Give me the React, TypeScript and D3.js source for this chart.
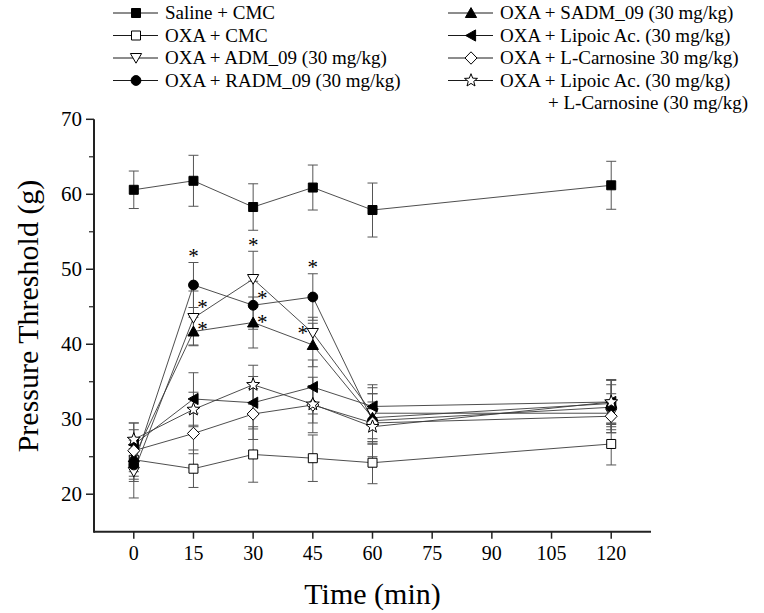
import React from 'react';
import * as d3 from 'd3';

// ---------- data ----------
const times = [0, 15, 30, 45, 60, 120];
const xTicks = [0, 15, 30, 45, 60, 75, 90, 105, 120];
const yTicksMajor = [20, 30, 40, 50, 60, 70];
const yTicksMinor = [25, 35, 45, 55, 65];

const salineCmc = [60.6, 61.8, 58.3, 60.9, 57.9, 61.2];
const salineCmcErr = [2.5, 3.4, 3.1, 3.0, 3.6, 3.2];
const oxaCmc = [24.6, 23.4, 25.3, 24.8, 24.2, 26.7];
const oxaCmcErr = [2.6, 2.5, 3.7, 3.1, 2.8, 2.8];
const oxaAdm = [23.0, 43.5, 48.7, 41.5, 30.8, 30.8];
const oxaAdmErr = [3.5, 3.6, 3.7, 2.1, 3.4, 2.6];
const oxaRadm = [23.9, 47.9, 45.2, 46.3, 29.8, 31.6];
const oxaRadmErr = [2.2, 3.0, 3.2, 3.1, 4.8, 3.0];
const oxaSadm = [24.9, 41.7, 42.9, 39.9, 30.2, 32.1];
const oxaSadmErr = [2.5, 1.9, 3.4, 2.9, 3.2, 3.1];
const oxaLipoic = [26.6, 32.7, 32.2, 34.3, 31.7, 32.3];
const oxaLipoicErr = [2.9, 3.5, 3.5, 3.6, 1.7, 3.0];
const oxaCarn = [25.8, 28.1, 30.7, 31.9, 29.5, 30.4];
const oxaCarnErr = [2.8, 2.7, 3.4, 3.7, 2.8, 2.2];
const oxaCombo = [27.3, 31.3, 34.6, 32.0, 29.0, 32.3];
const oxaComboErr = [2.2, 2.3, 2.6, 2.5, 2.3, 2.9];

const seriesLabels = [
  'Saline + CMC',
  'OXA + CMC',
  'OXA + ADM_09 (30 mg/kg)',
  'OXA + RADM_09 (30 mg/kg)',
  'OXA + SADM_09 (30 mg/kg)',
  'OXA + Lipoic Ac. (30 mg/kg)',
  'OXA + L-Carnosine 30 mg/kg)',
  'OXA + Lipoic Ac. (30 mg/kg)',
];
const comboSecondLine = '+ L-Carnosine (30 mg/kg)';

// significance marks: series index, time index, placement
const sigMarks = [
  { s: 3, i: 1, pos: 'above' },
  { s: 2, i: 1, pos: 'right', dy: -14 },
  { s: 4, i: 1, pos: 'right', dy: -5 },
  { s: 2, i: 2, pos: 'above' },
  { s: 3, i: 2, pos: 'right', dy: -10 },
  { s: 4, i: 2, pos: 'right', dy: -3 },
  { s: 3, i: 3, pos: 'above' },
  { s: 2, i: 3, pos: 'left', dy: -2 },
];

type MarkerKind = 'square' | 'circle' | 'triDown' | 'triUp' | 'triLeft' | 'diamond' | 'star';

const series: { label: string; values: number[]; err: number[]; marker: MarkerKind; filled: boolean }[] = [
  { label: seriesLabels[0], values: salineCmc, err: salineCmcErr, marker: 'square', filled: true },
  { label: seriesLabels[1], values: oxaCmc, err: oxaCmcErr, marker: 'square', filled: false },
  { label: seriesLabels[2], values: oxaAdm, err: oxaAdmErr, marker: 'triDown', filled: false },
  { label: seriesLabels[3], values: oxaRadm, err: oxaRadmErr, marker: 'circle', filled: true },
  { label: seriesLabels[4], values: oxaSadm, err: oxaSadmErr, marker: 'triUp', filled: true },
  { label: seriesLabels[5], values: oxaLipoic, err: oxaLipoicErr, marker: 'triLeft', filled: true },
  { label: seriesLabels[6], values: oxaCarn, err: oxaCarnErr, marker: 'diamond', filled: false },
  { label: seriesLabels[7], values: oxaCombo, err: oxaComboErr, marker: 'star', filled: false },
];

// ---------- layout ----------
const W = 764;
const H = 613;
const x = d3.scaleLinear().domain([-10, 130]).range([94, 651]);
const y = d3.scaleLinear().domain([15, 70]).range([531.7, 119.3]);
const FONT = '"Liberation Serif", "Times New Roman", serif';

function starPath(R: number, r: number) {
  const pts: string[] = [];
  for (let k = 0; k < 10; k++) {
    const a = -Math.PI / 2 + (k * Math.PI) / 5;
    const rad = k % 2 === 0 ? R : r;
    pts.push(`${(rad * Math.cos(a)).toFixed(2)},${(rad * Math.sin(a)).toFixed(2)}`);
  }
  return 'M' + pts.join('L') + 'Z';
}

function markerPath(kind: MarkerKind): string {
  switch (kind) {
    case 'square':
      return 'M-4.5,-4.5h9v9h-9Z';
    case 'circle':
      return d3.symbol(d3.symbolCircle, Math.PI * 4.9 * 4.9)() as string;
    case 'triDown':
      return 'M-5.6,-4.5L5.6,-4.5L0,5.2Z';
    case 'triUp':
      return 'M0,-5.4L5.6,4.5L-5.6,4.5Z';
    case 'triLeft':
      return 'M-5.4,0L4.6,-5.6L4.6,5.6Z';
    case 'diamond':
      return 'M0,-6.2L6,0L0,6.2L-6,0Z';
    case 'star':
      return starPath(6.8, 2.9);
  }
}

function Marker({ kind, filled, cx, cy }: { kind: MarkerKind; filled: boolean; cx: number; cy: number }) {
  return (
    <path
      d={markerPath(kind)}
      transform={`translate(${cx},${cy})`}
      fill={filled ? '#000' : '#fff'}
      stroke="#000"
      strokeWidth={1}
      strokeLinejoin="miter"
    />
  );
}

export default function App() {
  const line = d3
    .line<number>()
    .x((_, i) => x(times[i]))
    .y((v) => y(v));

  const legendRowsY = [13, 35.5, 58, 80.5];
  const legendItems = series.map((s, i) => {
    const col = i < 4 ? 0 : 1;
    const row = i % 4;
    return {
      s,
      x0: col === 0 ? 113 : 448,
      x1: col === 0 ? 158 : 493,
      mx: col === 0 ? 136 : 471,
      tx: col === 0 ? 165 : 500,
      ty: legendRowsY[row],
    };
  });

  return (
    <svg
      width={W}
      height={H}
      viewBox={`0 0 ${W} ${H}`}
      style={{ position: 'absolute', left: 0, top: 0, background: '#fff' }}
      fontFamily={FONT}
    >
      <rect x={0} y={0} width={W} height={H} fill="#fff" />

      {/* lines */}
      {series.map((s, si) => (
        <path key={'l' + si} d={line(s.values) as string} fill="none" stroke="#3a3a3a" strokeWidth={0.9} />
      ))}

      {/* error bars */}
      {series.map((s, si) =>
        s.values.map((v, i) => {
          const cx = x(times[i]);
          const yt = y(v + s.err[i]);
          const yb = y(v - s.err[i]);
          return (
            <g key={'e' + si + '-' + i} stroke="#555" strokeWidth={1}>
              <line x1={cx} x2={cx} y1={yt} y2={yb} />
              <line x1={cx - 5} x2={cx + 5} y1={yt} y2={yt} />
              <line x1={cx - 5} x2={cx + 5} y1={yb} y2={yb} />
            </g>
          );
        })
      )}

      {/* markers */}
      {series.map((s, si) =>
        s.values.map((v, i) => (
          <Marker key={'m' + si + '-' + i} kind={s.marker} filled={s.filled} cx={x(times[i])} cy={y(v)} />
        ))
      )}

      {/* significance asterisks */}
      {sigMarks.map((m, k) => {
        const s = series[m.s];
        const v = s.values[m.i];
        const cx = x(times[m.i]);
        let ax = cx;
        let ay = y(v);
        if (m.pos === 'above') {
          ay = y(v + s.err[m.i]) - 9;
        } else if (m.pos === 'right') {
          ax = cx + 9;
          ay = y(v) + (m.dy || 0);
        } else {
          ax = cx - 10;
          ay = y(v) + (m.dy || 0);
        }
        return (
          <text key={'a' + k} x={ax} y={ay + 9.5} fontSize={21} textAnchor="middle" fill="#000">
            *
          </text>
        );
      })}

      {/* axes */}
      <line x1={x(-10)} x2={x(130)} y1={y(15)} y2={y(15)} stroke="#222" strokeWidth={2} />
      <line x1={x(-10)} x2={x(-10)} y1={y(15) + 1} y2={y(70)} stroke="#222" strokeWidth={2} />
      {xTicks.map((t) => (
        <g key={'xt' + t}>
          <line x1={x(t)} x2={x(t)} y1={y(15)} y2={y(15) + 7} stroke="#222" strokeWidth={1.5} />
          <text x={x(t)} y={560} fontSize={20} textAnchor="middle" fill="#000">
            {t}
          </text>
        </g>
      ))}
      {yTicksMajor.map((t) => (
        <g key={'yt' + t}>
          <line x1={x(-10) - 8} x2={x(-10)} y1={y(t)} y2={y(t)} stroke="#222" strokeWidth={1.5} />
          <text x={82} y={y(t)} dy="0.34em" fontSize={21} textAnchor="end" fill="#000">
            {t}
          </text>
        </g>
      ))}
      {yTicksMinor.map((t) => (
        <line key={'ym' + t} x1={x(-10) - 5} x2={x(-10)} y1={y(t)} y2={y(t)} stroke="#222" strokeWidth={1.2} />
      ))}

      <text x={x(60)} y={604} fontSize={30} textAnchor="middle" fill="#000">
        Time (min)
      </text>
      <text
        transform={`translate(38,316) rotate(-90)`}
        fontSize={30}
        textAnchor="middle"
        fill="#000"
      >
        Pressure Threshold (g)
      </text>

      {/* legend */}
      {legendItems.map((it, i) => (
        <g key={'lg' + i}>
          <line x1={it.x0} x2={it.x1} y1={it.ty} y2={it.ty} stroke="#000" strokeWidth={0.9} />
          <Marker kind={it.s.marker} filled={it.s.filled} cx={it.mx} cy={it.ty} />
          <text x={it.tx} y={it.ty} dy="0.34em" fontSize={19} fill="#000">
            {it.s.label}
          </text>
        </g>
      ))}
      <text x={548} y={103} dy="0.34em" fontSize={19} fill="#000">
        {comboSecondLine}
      </text>
    </svg>
  );
}
